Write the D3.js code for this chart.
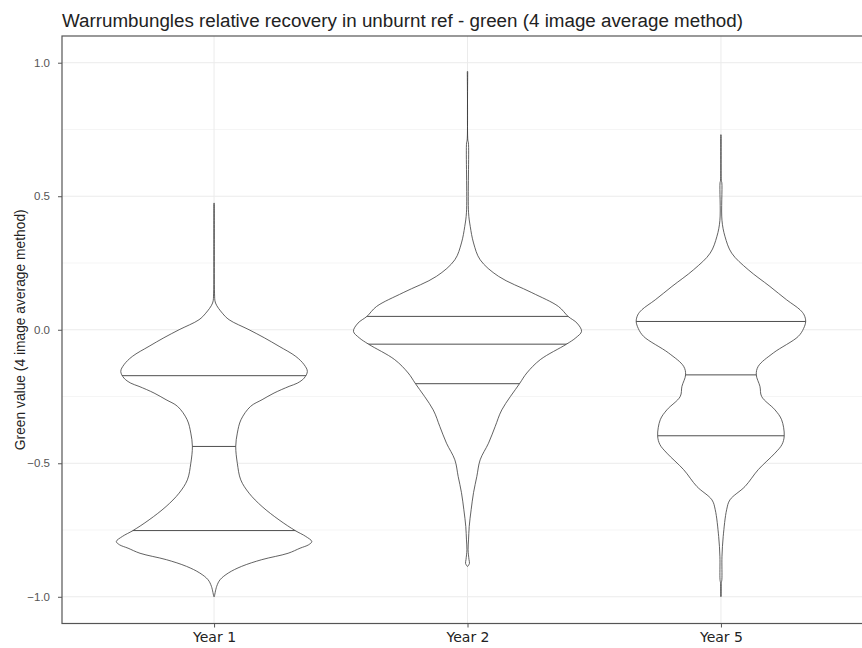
<!DOCTYPE html>
<html>
<head>
<meta charset="utf-8">
<script src="https://cdn.jsdelivr.net/npm/d3@7"></script>
<style>
  html, body { margin: 0; padding: 0; background: #fff; }
  svg { display: block; }
</style>
</head>
<body>
<div id="chart"></div>
<script>
// Categories and y-axis ticks
const categories = ["Year 1", "Year 2", "Year 5"];
const yMajorTicks = [-1.0, -0.5, 0.0, 0.5, 1.0];
const yMinorTicks = [-0.75, -0.25, 0.25, 0.75];

// Density profiles: [green value, relative density (1 = widest violin)]
const year1Profile = [
  [0.474, 0.002], [0.30, 0.002], [0.137, 0.004], [0.10, 0.013], [0.062, 0.073],
  [0.0375, 0.132], [0.0, 0.307], [-0.03, 0.44], [-0.062, 0.570], [-0.10, 0.717],
  [-0.131, 0.79], [-0.156, 0.818], [-0.181, 0.79], [-0.20, 0.73], [-0.212, 0.658],
  [-0.237, 0.526], [-0.262, 0.421], [-0.287, 0.32], [-0.337, 0.236], [-0.387, 0.204],
  [-0.437, 0.190], [-0.50, 0.204], [-0.562, 0.234], [-0.612, 0.307], [-0.662, 0.421],
  [-0.712, 0.570], [-0.752, 0.711], [-0.774, 0.804], [-0.793, 0.857], [-0.805, 0.83],
  [-0.818, 0.754], [-0.837, 0.649], [-0.861, 0.418], [-0.886, 0.242], [-0.911, 0.125],
  [-0.936, 0.053], [-0.961, 0.023], [-0.999, 0.003]
];
const year2Profile = [
  [0.967, 0.002], [0.71, 0.003], [0.70, 0.008], [0.44, 0.009], [0.387, 0.024],
  [0.325, 0.053], [0.262, 0.111], [0.20, 0.272], [0.139, 0.564], [0.087, 0.798],
  [0.05, 0.882], [0.025, 0.96], [-0.006, 1.0], [-0.03, 0.95], [-0.054, 0.868],
  [-0.112, 0.638], [-0.162, 0.520], [-0.202, 0.456], [-0.30, 0.301], [-0.362, 0.243],
  [-0.425, 0.184], [-0.487, 0.111], [-0.549, 0.082], [-0.61, 0.053], [-0.674, 0.032],
  [-0.737, 0.015], [-0.787, 0.009], [-0.824, 0.005], [-0.86, 0.013], [-0.875, 0.017],
  [-0.886, 0.002]
];
const year5Profile = [
  [0.73, 0.002], [0.56, 0.003], [0.55, 0.008], [0.41, 0.009], [0.35, 0.035],
  [0.287, 0.094], [0.225, 0.239], [0.162, 0.430], [0.112, 0.576], [0.075, 0.693],
  [0.055, 0.73], [0.031, 0.743], [0.005, 0.725], [-0.025, 0.678], [-0.087, 0.459],
  [-0.137, 0.327], [-0.169, 0.310], [-0.212, 0.342], [-0.25, 0.357], [-0.30, 0.474],
  [-0.337, 0.532], [-0.397, 0.555], [-0.43, 0.535], [-0.462, 0.474], [-0.524, 0.327],
  [-0.587, 0.211], [-0.637, 0.079], [-0.674, 0.050], [-0.774, 0.020], [-0.85, 0.009],
  [-0.936, 0.008], [-0.95, 0.003], [-0.999, 0.002]
];

// Quartiles (25%, 50%, 75%) for each group
const year1Quantiles = [-0.752, -0.437, -0.172];
const year2Quantiles = [-0.202, -0.054, 0.05];
const year5Quantiles = [-0.397, -0.169, 0.031];

const profiles = [year1Profile, year2Profile, year5Profile];
const quantiles = [year1Quantiles, year2Quantiles, year5Quantiles];

const titleText = "Warrumbungles relative recovery in unburnt ref - green (4 image average method)";
const yTitleText = "Green value (4 image average method)";

// Layout
const W = 862, H = 648;
const panel = { left: 62, top: 36, right: 873, bottom: 623.5 };

const svg = d3.select("#chart").append("svg")
  .attr("width", W).attr("height", H);

const x = d3.scalePoint()
  .domain(categories)
  .range([panel.left, panel.right])
  .padding(0.6);

const y = d3.scaleLinear()
  .domain([-1.1, 1.1])
  .range([panel.bottom, panel.top]);

const halfWidth = d3.scaleLinear()
  .domain([0, 1])
  .range([0, x.step() * 0.45]);

// Panel grid
const grid = svg.append("g");
grid.selectAll("line.minor").data(yMinorTicks).join("line")
  .attr("x1", panel.left).attr("x2", panel.right)
  .attr("y1", d => y(d)).attr("y2", d => y(d))
  .attr("stroke", "#f3f3f3").attr("stroke-width", 0.8);
grid.selectAll("line.major").data(yMajorTicks).join("line")
  .attr("x1", panel.left).attr("x2", panel.right)
  .attr("y1", d => y(d)).attr("y2", d => y(d))
  .attr("stroke", "#ebebeb").attr("stroke-width", 1);
grid.selectAll("line.vmajor").data(categories).join("line")
  .attr("x1", d => x(d)).attr("x2", d => x(d))
  .attr("y1", panel.top).attr("y2", panel.bottom)
  .attr("stroke", "#ebebeb").attr("stroke-width", 1);

// Violins with quartile lines clipped to each outline
const defs = svg.append("defs");
const violins = svg.append("g");

categories.forEach((cat, i) => {
  const cx = x(cat);
  const area = d3.area()
    .curve(d3.curveCatmullRom.alpha(0.5))
    .y(d => y(d[0]))
    .x0(d => cx - halfWidth(d[1]))
    .x1(d => cx + halfWidth(d[1]));
  const pathD = area(profiles[i]);

  defs.append("clipPath").attr("id", "violin-clip-" + i)
    .append("path").attr("d", pathD);

  const g = violins.append("g");
  g.append("path")
    .attr("d", pathD)
    .attr("fill", "#ffffff")
    .attr("stroke", "#3a3a3a")
    .attr("stroke-width", 0.8);

  g.append("g").attr("clip-path", "url(#violin-clip-" + i + ")")
    .selectAll("line").data(quantiles[i]).join("line")
    .attr("x1", cx - halfWidth(1.1)).attr("x2", cx + halfWidth(1.1))
    .attr("y1", d => y(d)).attr("y2", d => y(d))
    .attr("stroke", "#3a3a3a").attr("stroke-width", 0.9);
});

// Panel border
svg.append("rect")
  .attr("x", panel.left).attr("y", panel.top)
  .attr("width", panel.right - panel.left).attr("height", panel.bottom - panel.top)
  .attr("fill", "none").attr("stroke", "#555").attr("stroke-width", 1.2);

// Y axis
const yAxis = d3.axisLeft(y).tickValues(yMajorTicks).tickSize(4).tickPadding(8)
  .tickFormat(d3.format(".1f"));
const yAxisG = svg.append("g").attr("transform", `translate(${panel.left},0)`).call(yAxis);
yAxisG.select(".domain").remove();
yAxisG.selectAll(".tick line").attr("stroke", "#555");
yAxisG.selectAll(".tick text")
  .attr("fill", "#555")
  .style("font-family", "'Liberation Sans', Arial, sans-serif")
  .style("font-size", "11.5px");

// X axis
const xAxis = d3.axisBottom(x).tickSize(4).tickPadding(5);
const xAxisG = svg.append("g").attr("transform", `translate(0,${panel.bottom})`).call(xAxis);
xAxisG.select(".domain").remove();
xAxisG.selectAll(".tick line").attr("stroke", "#555");
xAxisG.selectAll(".tick text")
  .attr("fill", "#222")
  .style("font-family", "'DejaVu Sans', Verdana, sans-serif")
  .style("font-size", "14px");

// Titles
svg.append("text")
  .attr("x", panel.left).attr("y", 27)
  .attr("fill", "#222")
  .attr("textLength", 681)
  .attr("lengthAdjust", "spacingAndGlyphs")
  .style("font-family", "'Liberation Sans', Arial, sans-serif")
  .style("font-size", "18px")
  .text(titleText);

svg.append("text")
  .attr("transform", `translate(25,${(panel.top + panel.bottom) / 2}) rotate(-90)`)
  .attr("text-anchor", "middle")
  .attr("fill", "#222")
  .style("font-family", "'Liberation Sans', Arial, sans-serif")
  .style("font-size", "13.8px")
  .text(yTitleText);
</script>
</body>
</html>
